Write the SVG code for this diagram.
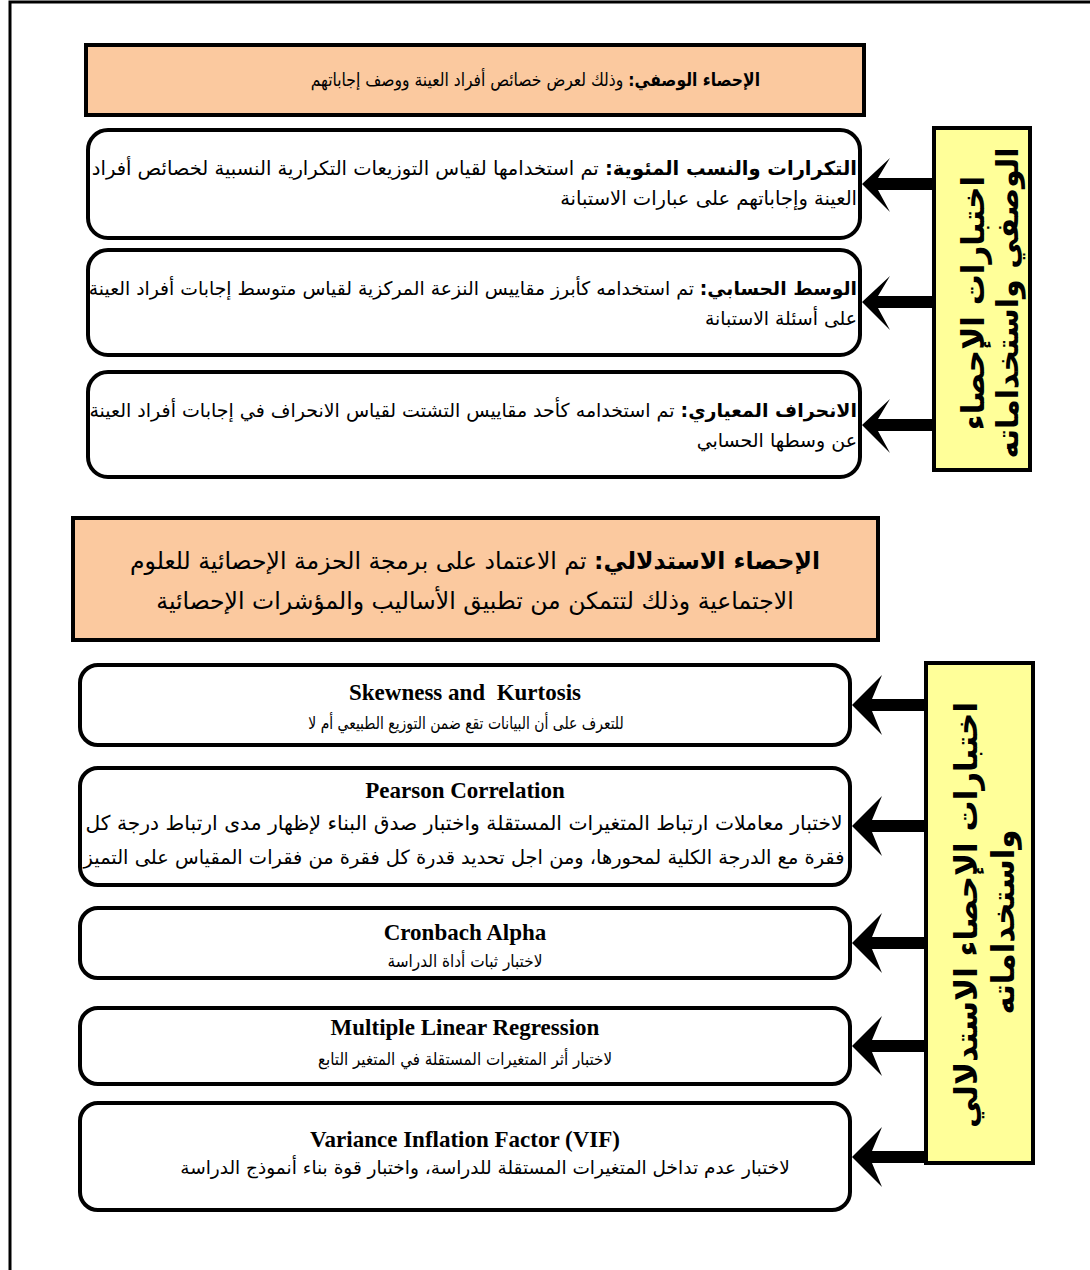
<svg xmlns="http://www.w3.org/2000/svg" width="1090" height="1270" viewBox="0 0 1090 1270">
<style>
.hdr{fill:#FBC99F;stroke:#000;stroke-width:4}
.box{fill:#fff;stroke:#000;stroke-width:4}
.yel{fill:#FFFF99;stroke:#000;stroke-width:4}
.ar{font-family:"DejaVu Sans",sans-serif;font-size:19px;fill:#000}
.b{font-weight:bold}
.en{font-family:"Liberation Serif",serif;font-size:23px;font-weight:bold;fill:#000}
.vt{font-family:"DejaVu Sans",sans-serif;font-size:30px;font-weight:bold;fill:#000}
.arr{fill:#000}
</style>
<rect x="0" y="0" width="1090" height="1270" fill="#fff"/>
<path d="M10 1270 V2 H1090" fill="none" stroke="#000" stroke-width="3"/>

<g id="desc-header">
<rect class="hdr" x="86" y="45" width="778" height="70"/>
<text class="ar" transform="translate(760,86) scale(0.865,1)" x="0" y="0" direction="rtl" text-anchor="start" style="font-size:18px"><tspan class="b">الإحصاء الوصفي:</tspan> وذلك لعرض خصائص أفراد العينة ووصف إجاباتهم</text>
</g>

<g id="desc-freq">
<rect class="box" x="88" y="130" width="772" height="108" rx="20"/>
<text class="ar" x="857" y="175" direction="rtl" text-anchor="start" style="font-size:19.5px"><tspan class="b">التكرارات والنسب المئوية:</tspan> تم استخدامها لقياس التوزيعات التكرارية النسبية لخصائص أفراد</text>
<text class="ar" x="857" y="205" direction="rtl" text-anchor="start" style="font-size:19.5px">العينة وإجاباتهم على عبارات الاستبانة</text>
</g>

<g id="desc-mean">
<rect class="box" x="88" y="250" width="772" height="105" rx="20"/>
<text class="ar" x="857" y="295" direction="rtl" text-anchor="start" style="font-size:18.8px"><tspan class="b">الوسط الحسابي:</tspan> تم استخدامه كأبرز مقاييس النزعة المركزية لقياس متوسط إجابات أفراد العينة</text>
<text class="ar" x="857" y="325" direction="rtl" text-anchor="start" style="font-size:18.8px">على أسئلة الاستبانة</text>
</g>

<g id="desc-sd">
<rect class="box" x="88" y="372" width="772" height="105" rx="20"/>
<text class="ar" x="857" y="417" direction="rtl" text-anchor="start"><tspan class="b">الانحراف المعياري:</tspan> تم استخدامه كأحد مقاييس التشتت لقياس الانحراف في إجابات أفراد العينة</text>
<text class="ar" x="857" y="447" direction="rtl" text-anchor="start">عن وسطها الحسابي</text>
</g>

<g id="desc-side">
<rect class="yel" x="934" y="128" width="96" height="342"/>
<text class="vt" transform="translate(984,303) rotate(-90)" text-anchor="middle" style="font-size:31px">اختبارات الإحصاء</text>
<text class="vt" transform="translate(1018,303) rotate(-90)" text-anchor="middle">الوصفي واستخداماته</text>
</g>

<g id="inf-header">
<rect class="hdr" x="73" y="518" width="805" height="122"/>
<text class="ar" x="475" y="569" text-anchor="middle" direction="rtl" style="font-size:23.5px"><tspan class="b">الإحصاء الاستدلالي:</tspan> تم الاعتماد على برمجة الحزمة الإحصائية للعلوم</text>
<text class="ar" x="475" y="609" text-anchor="middle" direction="rtl" style="font-size:23.5px">الاجتماعية وذلك لتتمكن من تطبيق الأساليب والمؤشرات الإحصائية</text>
</g>

<g id="inf-skew">
<rect class="box" x="80" y="665" width="770" height="80" rx="18"/>
<text class="en" x="465" y="700" text-anchor="middle" xml:space="preserve">Skewness and  Kurtosis</text>
<text class="ar" transform="translate(466,729) scale(0.82,1)" x="0" y="0" text-anchor="middle" direction="rtl" style="font-size:17px">للتعرف على أن البيانات تقع ضمن التوزيع الطبيعي أم لا</text>
</g>

<g id="inf-pearson">
<rect class="box" x="80" y="768" width="770" height="117" rx="18"/>
<text class="en" x="465" y="798" text-anchor="middle">Pearson Correlation</text>
<text class="ar" x="464" y="830" text-anchor="middle" direction="rtl" style="font-size:20.3px">لاختبار معاملات ارتباط المتغيرات المستقلة واختبار صدق البناء لإظهار مدى ارتباط درجة كل</text>
<text class="ar" x="464" y="864" text-anchor="middle" direction="rtl" style="font-size:19.4px">فقرة مع الدرجة الكلية لمحورها، ومن اجل تحديد قدرة كل فقرة من فقرات المقياس على التميز</text>
</g>

<g id="inf-cronbach">
<rect class="box" x="80" y="908" width="770" height="70" rx="18"/>
<text class="en" x="465" y="940" text-anchor="middle">Cronbach Alpha</text>
<text class="ar" transform="translate(465,967) scale(0.9,1)" x="0" y="0" text-anchor="middle" direction="rtl" style="font-size:17px">لاختبار ثبات أداة الدراسة</text>
</g>

<g id="inf-mlr">
<rect class="box" x="80" y="1008" width="770" height="76" rx="18"/>
<text class="en" x="465" y="1035" text-anchor="middle">Multiple Linear Regression</text>
<text class="ar" transform="translate(465,1065) scale(0.89,1)" x="0" y="0" text-anchor="middle" direction="rtl" style="font-size:17px">لاختبار أثر المتغيرات المستقلة في المتغير التابع</text>
</g>

<g id="inf-vif">
<rect class="box" x="80" y="1103" width="770" height="107" rx="18"/>
<text class="en" x="465" y="1147" text-anchor="middle">Variance Inflation Factor (VIF)</text>
<text class="ar" x="485" y="1174" text-anchor="middle" direction="rtl" style="font-size:18.5px">لاختبار عدم تداخل المتغيرات المستقلة للدراسة، واختبار قوة بناء أنموذج الدراسة</text>
</g>

<g id="inf-side">
<rect class="yel" x="926" y="663" width="107" height="500"/>
<text class="vt" transform="translate(977,915) rotate(-90)" text-anchor="middle" style="font-size:31px">اختبارات الإحصاء الاستدلالي</text>
<text class="vt" transform="translate(1014,922) rotate(-90)" text-anchor="middle" style="font-size:31px">واستخداماته</text>
</g>

<g id="connectors">
<path class="arr" d="M862 184 L890 158 L878 178 L934 178 L934 190 L878 190 L890 212 Z"/>
<path class="arr" d="M862 302 L890 276 L878 296 L934 296 L934 308 L878 308 L890 330 Z"/>
<path class="arr" d="M862 425 L890 399 L878 419 L934 419 L934 431 L878 431 L890 453 Z"/>
<path class="arr" d="M852 705 L882 675 L872 699 L926 699 L926 711 L872 711 L882 735 Z"/>
<path class="arr" d="M852 826 L882 796 L872 820 L926 820 L926 832 L872 832 L882 856 Z"/>
<path class="arr" d="M852 943 L882 913 L872 937 L926 937 L926 949 L872 949 L882 973 Z"/>
<path class="arr" d="M852 1046 L882 1016 L872 1040 L926 1040 L926 1052 L872 1052 L882 1076 Z"/>
<path class="arr" d="M852 1157 L882 1127 L872 1151 L926 1151 L926 1163 L872 1163 L882 1187 Z"/>
</g>
</svg>
